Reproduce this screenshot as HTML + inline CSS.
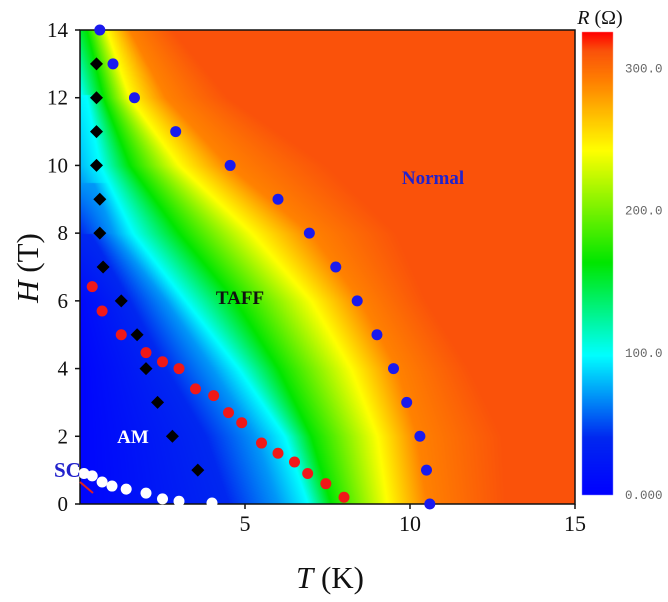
<!DOCTYPE html>
<html><head><meta charset="utf-8"><style>
body{margin:0;background:#fff;width:668px;height:602px;overflow:hidden;position:relative;font-family:"Liberation Serif",serif}
canvas{position:absolute;left:0;top:0}
svg{position:absolute;left:0;top:0}
</style></head><body>
<canvas id="field" width="668" height="602"></canvas>
<svg id="chart" width="668" height="602"></svg>
<script>
// ---- data ----
const gridH = [0,2,4,6,8,10,12,14];
const edgeR = [5,5,5,10,40,80,95,150];           // R at T=0
const levelR = [40,70,98,163,242,290,312];
const levelT = [
  [4.5,3.8,2.6,1.5,0.3,0,0,0],
  [6.0,5.3,4.0,2.6,1.0,0.2,0,0],
  [6.9,6.2,4.8,3.2,1.6,0.6,0.2,0.05],
  [7.6,7.0,6.0,4.7,3.0,1.5,0.7,0.2],
  [9.3,9.0,8.2,7.0,5.2,3.0,1.5,0.8],
  [10.5,10.2,9.6,8.5,7.0,4.5,2.6,1.5],
  [12.9,12.8,11.8,10.5,9.6,7.5,4.5,2.8]
];
const blueT=[0.6,1.0,1.65,2.9,4.55,6.0,6.95,7.75,8.4,9.0,9.5,9.9,10.3,10.5,10.6];
const blueH=[14,13,12,11,10,9,8,7,6,5,4,3,2,1,0];
const diaT=[0.5,0.5,0.5,0.5,0.6,0.6,0.7,1.25,1.73,2.0,2.35,2.8,3.57];
const diaH=[13,12,11,10,9,8,7,6,5,4,3,2,1];
const redT=[0.37,0.67,1.25,2.0,2.5,3.0,3.5,4.05,4.5,4.9,5.5,6.0,6.5,6.9,7.45,8.0];
const redH=[6.42,5.7,5.0,4.47,4.2,4.0,3.4,3.2,2.7,2.4,1.8,1.5,1.24,0.9,0.6,0.2];
const whiteT=[0.12,0.37,0.67,0.97,1.4,2.0,2.5,3.0,4.0];
const whiteH=[0.9,0.83,0.65,0.53,0.44,0.32,0.15,0.08,0.03];
const xTicks=[5,10,15];
const yTicks=[0,2,4,6,8,10,12,14];
const cbTicks=[0,100,200,300];
const cbLabels=["0.000","100.0","200.0","300.0"];
// ---- axes ----
const X0=80,X1=575,Y0=504,Y1=30,TMAX=15,HMAX=14,RMAX=325;
const xs=t=>X0+(X1-X0)*t/TMAX, ys=h=>Y0-(Y0-Y1)*h/HMAX;
const CB={x:582,w:31,y0:494,y1:32}; const cy=r=>CB.y0-(CB.y0-CB.y1)*r/RMAX;
const stops=[[0,[0,0,255]],[40,[0,40,240]],[98,[0,255,255]],[163,[0,230,0]],[242,[255,255,0]],[290,[255,130,0]],[312,[250,82,10]],[325,[255,0,0]]];
function cmap(r){r=Math.max(0,Math.min(RMAX,r));for(let i=1;i<stops.length;i++){if(r<=stops[i][0]){const a=stops[i-1],b=stops[i],f=(r-a[0])/(b[0]-a[0]);return a[1].map((v,k)=>Math.round(v+(b[1][k]-v)*f));}}return stops[stops.length-1][1];}
function lerpArr(arr,h){for(let i=1;i<gridH.length;i++){if(h<=gridH[i]){const f=(h-gridH[i-1])/(gridH[i]-gridH[i-1]);return arr[i-1]+(arr[i]-arr[i-1])*f;}}return arr[arr.length-1];}
function field(t,h){const pts=[[0,lerpArr(edgeR,h)]];levelR.forEach((r,i)=>{const tt=lerpArr(levelT[i],h);if(tt>pts[pts.length-1][0]+1e-6&&r>pts[pts.length-1][1])pts.push([tt,r]);});
 for(let i=1;i<pts.length;i++){if(t<=pts[i][0]){const f=(t-pts[i-1][0])/(pts[i][0]-pts[i-1][0]);return pts[i-1][1]+(pts[i][1]-pts[i-1][1])*f;}}return 312;}
const ctx=document.getElementById('field').getContext('2d');
const img=ctx.createImageData(X1-X0,Y0-Y1);
for(let py=0;py<Y0-Y1;py++){const h=(Y0-Y1-py)/(Y0-Y1)*HMAX;for(let px=0;px<X1-X0;px++){const t=px/(X1-X0)*TMAX;const c=cmap(field(t,h));const o=(py*(X1-X0)+px)*4;img.data[o]=c[0];img.data[o+1]=c[1];img.data[o+2]=c[2];img.data[o+3]=255;}}
ctx.putImageData(img,X0,Y1);
for(let py=CB.y1;py<=CB.y0;py++){const r=(CB.y0-py)/(CB.y0-CB.y1)*RMAX;const c=cmap(r);ctx.fillStyle=`rgb(${c})`;ctx.fillRect(CB.x,py,CB.w,1);}
// ---- svg ----
const NS='http://www.w3.org/2000/svg',svg=document.getElementById('chart');
function mk(tag,attrs,txt){const e=document.createElementNS(NS,tag);for(const k in attrs)e.setAttribute(k,attrs[k]);if(txt!==undefined)e.textContent=txt;svg.appendChild(e);return e;}
let e;
e=mk('rect',{x:X0,y:Y1,width:X1-X0,height:Y0-Y1,fill:'none',stroke:'#111','stroke-width':1.5});


yTicks.forEach(v=>{
 e=mk('line',{x1:X0-5,x2:X0,y1:ys(v),y2:ys(v),stroke:'#111','stroke-width':1.5});
 
 
 e=mk('text',{x:X0-12,y:ys(v)+7,'text-anchor':'end','font-size':21,fill:'#111'},v);
 
 
});
xTicks.forEach(v=>{
 e=mk('line',{x1:xs(v),x2:xs(v),y1:Y0,y2:Y0+5,stroke:'#111','stroke-width':1.5});
 
 
 e=mk('text',{x:xs(v),y:Y0+27,'text-anchor':'middle','font-size':22,fill:'#111'},v);
 
 
});
cbTicks.forEach((v,i)=>{
 e=mk('text',{x:625,y:cy(v)+5,'font-size':12.5,fill:'#666','font-family':'Liberation Mono, monospace'},cbLabels[i]);
 
 
});
blueT.forEach((t,i)=>{
 e=mk('circle',{cx:xs(t),cy:ys(blueH[i]),r:5.5,fill:'#1a1aee'});
 
 
});
diaT.forEach((t,i)=>{const x=xs(t),y=ys(diaH[i]),d=6.5;
 e=mk('polygon',{points:`${x},${y-d} ${x+d},${y} ${x},${y+d} ${x-d},${y}`,fill:'#000'});
 
 
});
redT.forEach((t,i)=>{
 e=mk('circle',{cx:xs(t),cy:ys(redH[i]),r:5.5,fill:'#f01818'});
 
 
});
whiteT.forEach((t,i)=>{
 e=mk('circle',{cx:xs(t),cy:ys(whiteH[i]),r:5.5,fill:'#fff'});
 
 
});
</script>
<svg width="668" height="602">
<text x="433" y="184" text-anchor="middle" font-size="19" font-weight="bold" fill="#2222cc">Normal</text>
<text x="240" y="304" text-anchor="middle" font-size="19" font-weight="bold" fill="#111">TAFF</text>
<text x="133" y="443" text-anchor="middle" font-size="19" font-weight="bold" fill="#fff">AM</text>
<text x="54" y="477" font-size="21" font-weight="bold" fill="#2222cc">SC</text>
<line x1="80" y1="482" x2="93" y2="493" stroke="#e02020" stroke-width="2"/>
<text x="600" y="24" text-anchor="middle" font-size="20" fill="#111"><tspan font-style="italic">R</tspan> (Ω)</text>
<text transform="translate(38,268) rotate(-90)" text-anchor="middle" font-size="31" fill="#111"><tspan font-style="italic">H</tspan> (T)</text>
<text x="330" y="588" text-anchor="middle" font-size="31" fill="#111"><tspan font-style="italic">T</tspan> (K)</text>
</svg>
</body></html>
